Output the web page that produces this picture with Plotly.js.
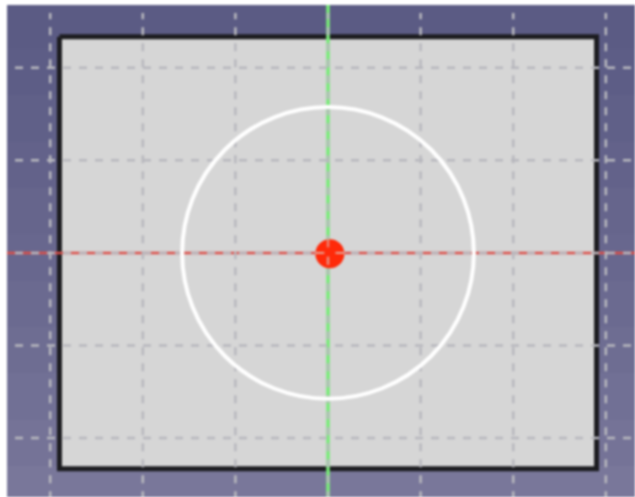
<!DOCTYPE html>
<html><head><meta charset="utf-8">
<script src="https://cdn.plot.ly/plotly-3.0.1.min.js"></script>
<style>html,body{margin:0;padding:0;background:#fff;overflow:hidden}#c{width:635px;height:497px;filter:blur(0.8px)}</style>
</head><body><div id="c"></div>
<script>
// Sketch coordinates: one grid cell = 1 unit
const gridX = [-3, -2, -1, 0, 1, 2, 3];
const gridY = [-2, -1, 0, 1, 2];
const gridXExtent = [-2.66, 2.59];
const gridYExtent = [-3.38, 3.315];
const rectX = [-2.9, 2.9, 2.9, -2.9, -2.9];
const rectY = [2.335, 2.335, -2.33, -2.33, 2.335];
const circleCenter = [0, 0];
const circleRadius = 1.575;
const originPoint = [0.02, -0.01];
const bgXEdges = [-3.466, 3.315];
const bgYEdges = [2.677, 2.2, 1.7, 1.2, 0.7, 0.2, -0.3, -0.8, -1.3, -1.8, -2.3, -2.66];
const bgZ = [[0],[0.08],[0.16],[0.25],[0.34],[0.43],[0.52],[0.62],[0.72],[0.84],[0.96]];
const xRange = [-3.542, 3.315];
const yRange = [-2.636, 2.731];
const xAxisLine = [-3.466, 3.315];
const yAxisLine = [-2.66, 2.677];

const traces = [];
traces.push({type:'heatmap', x:bgXEdges, y:bgYEdges, z:bgZ, showscale:false, hoverinfo:'skip', zmin:0, zmax:1,
  colorscale:[[0,'#5b5b84'],[1,'#7a789b']]});
traces.push({type:'scatter', mode:'lines', x:rectX, y:rectY, fill:'toself', fillcolor:'#d6d6d6',
  line:{color:'#1c1c20', width:5}});
traces.push({type:'scatter', mode:'lines', x:xAxisLine, y:[0,0], line:{color:'#dc4f4a', width:2.5}});
traces.push({type:'scatter', mode:'lines', x:[0,0], y:yAxisLine, line:{color:'#78ec78', width:3.5}});
const gridStyle = {color:'rgb(184,184,190)', width:2.5, dash:'8px,8px'};
gridX.forEach(x=>traces.push({type:'scatter', mode:'lines', x:[x,x], y:gridXExtent, line:gridStyle}));
gridY.forEach(y=>traces.push({type:'scatter', mode:'lines', x:gridYExtent, y:[y,y], line:gridStyle}));
traces.push({type:'scatter', mode:'markers', x:[originPoint[0]], y:[originPoint[1]],
  marker:{color:'#ff2a0a', size:29, line:{width:0}}});
traces.push({type:'scatter', mode:'lines', x:[originPoint[0]-0.16,originPoint[0]-0.06], y:[0,0],
  line:{color:'rgba(225,190,180,0.85)', width:2}});
traces.push({type:'scatter', mode:'lines', x:[originPoint[0]+0.06,originPoint[0]+0.16], y:[0,0],
  line:{color:'rgba(225,190,180,0.85)', width:2}});
traces.push({type:'scatter', mode:'lines', x:[0,0], y:[-0.13,-0.04],
  line:{color:'rgba(225,170,160,0.8)', width:2.5}});
traces.push({type:'scatter', mode:'lines', x:[0,0], y:[0.06,0.15],
  line:{color:'rgba(225,170,160,0.7)', width:2.5}});

const layout = {
  width:635, height:497, margin:{l:0,r:0,t:0,b:0,pad:0},
  paper_bgcolor:'#ffffff', plot_bgcolor:'#ffffff', showlegend:false,
  xaxis:{range:xRange, visible:false, fixedrange:true},
  yaxis:{range:yRange, visible:false, fixedrange:true},
  shapes:[{type:'circle', layer:'above', xref:'x', yref:'y',
    x0:circleCenter[0]-circleRadius, x1:circleCenter[0]+circleRadius,
    y0:circleCenter[1]-circleRadius, y1:circleCenter[1]+circleRadius,
    line:{color:'#ffffff', width:4}}]
};
Plotly.newPlot('c', traces, layout, {displayModeBar:false, staticPlot:true});
</script></body></html>
